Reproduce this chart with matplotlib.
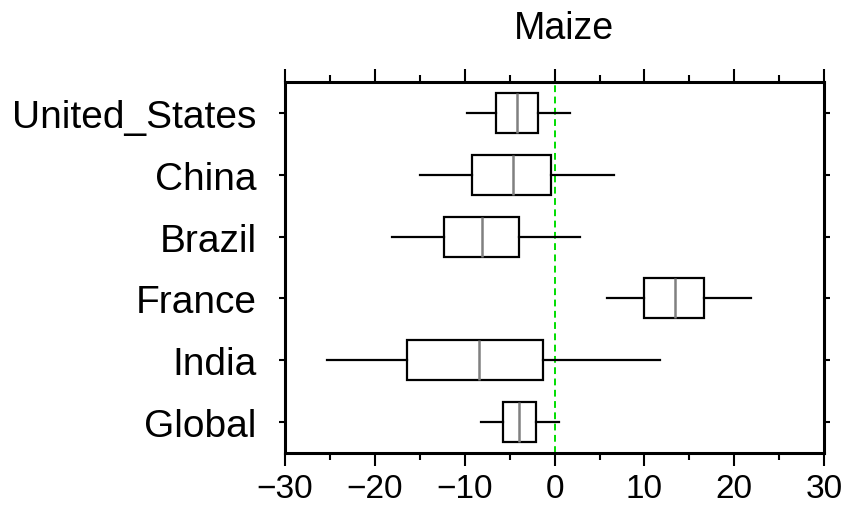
import matplotlib
matplotlib.use('Agg')
import matplotlib.pyplot as plt
from matplotlib.ticker import MultipleLocator

# Country order, top to bottom
countries = ['United_States', 'China', 'Brazil', 'France', 'India', 'Global']

# Box statistics (% change)
whisker_low = [-9.8, -15.0, -18.1, 5.8, -25.3, -8.2]
q1 = [-6.5, -9.2, -12.3, 9.9, -16.4, -5.7]
median = [-4.2, -4.6, -8.1, 13.4, -8.4, -4.0]
q3 = [-1.9, -0.4, -4.0, 16.6, -1.3, -2.1]
whisker_high = [1.7, 6.6, 2.8, 21.8, 11.7, 0.5]

plt.rcParams['font.family'] = ['Liberation Sans', 'DejaVu Sans']

fig = plt.figure(figsize=(8.48, 5.10), dpi=100)
ax = fig.add_axes([0.336, 0.110, 0.636, 0.727])

stats = []
for i, name in enumerate(countries):
    stats.append({'label': name, 'whislo': whisker_low[i], 'q1': q1[i],
                  'med': median[i], 'q3': q3[i], 'whishi': whisker_high[i]})

positions = list(range(len(countries)))[::-1]
ax.bxp(stats, positions=positions, vert=False, widths=0.65, showcaps=False,
       showfliers=False, patch_artist=True,
       boxprops=dict(facecolor='white', edgecolor='black', linewidth=1.6),
       whiskerprops=dict(color='black', linewidth=1.6),
       medianprops=dict(color='#808080', linewidth=1.8))

ax.axvline(0, color='#00dd00', linestyle=(0, (3.5, 2.3)), linewidth=1.4, zorder=0)

ax.set_xlim(-30, 30)
ax.set_ylim(-0.5, len(countries) - 0.5)
ax.xaxis.set_major_locator(MultipleLocator(10))
ax.xaxis.set_minor_locator(MultipleLocator(5))
ax.set_yticks(positions)
ax.set_yticklabels(countries)

ax.tick_params(axis='x', which='major', direction='out', length=9.5, width=1.5,
               top=True, labelsize=24, pad=5)
ax.tick_params(axis='x', which='minor', direction='out', length=5, width=1.5, top=True)
ax.tick_params(axis='y', direction='out', length=4.3, width=1.5, right=True,
               labelsize=28, pad=16)

for spine in ax.spines.values():
    spine.set_linewidth(2.2)

# title sits a little right of the axes centre in the original
fig.text(0.665, 1 - 39 / 510, 'Maize', fontsize=27, ha='center', va='baseline')

fig.savefig('out.png', dpi=100)
